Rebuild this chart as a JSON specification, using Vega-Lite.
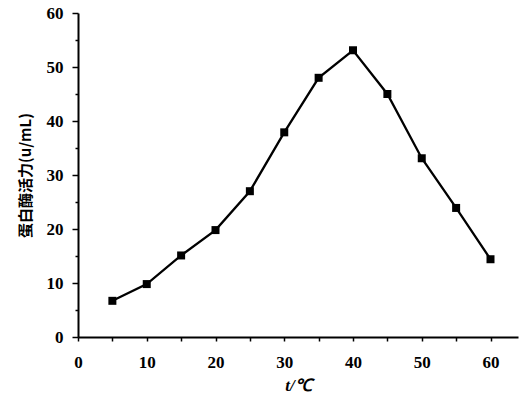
{
  "$schema": "https://vega.github.io/schema/vega-lite/v6.json",
  "width": 440,
  "height": 324,
  "autosize": {"type": "none"},
  "padding": {"left": 78, "top": 13, "right": 8, "bottom": 70},
  "background": "white",
  "config": {
    "view": {"stroke": null},
    "axis": {
      "grid": false,
      "domainColor": "black",
      "domainWidth": 2,
      "tickColor": "black",
      "tickWidth": 1.5,
      "labelFont": "Liberation Serif",
      "labelFontWeight": "bold",
      "labelFontSize": 17,
      "labelColor": "black",
      "titleColor": "black"
    }
  },
  "data": {
    "values": [
      {"t": 5, "activity": 6.7},
      {"t": 10, "activity": 9.8},
      {"t": 15, "activity": 15.1},
      {"t": 20, "activity": 19.8},
      {"t": 25, "activity": 27},
      {"t": 30, "activity": 37.9},
      {"t": 35, "activity": 48},
      {"t": 40, "activity": 53.1},
      {"t": 45, "activity": 45},
      {"t": 50, "activity": 33.1},
      {"t": 55, "activity": 23.9},
      {"t": 60, "activity": 14.4}
    ]
  },
  "encoding": {
    "x": {
      "field": "t",
      "type": "quantitative",
      "scale": {"domain": [0, 64], "nice": false},
      "axis": {
        "values": [0, 5, 10, 15, 20, 25, 30, 35, 40, 45, 50, 55, 60],
        "labelExpr": "datum.value % 10 == 0 ? datum.label : ''",
        "tickSize": 4,
        "labelPadding": 13,
        "labelFlush": false,
        "title": "t/℃",
        "titleFont": "Liberation Serif",
        "titleFontSize": 17,
        "titleFontWeight": "bold",
        "titleFontStyle": "italic",
        "titlePadding": 7
      }
    },
    "y": {
      "field": "activity",
      "type": "quantitative",
      "scale": {"domain": [0, 60], "nice": false},
      "axis": {
        "values": [0, 5, 10, 15, 20, 25, 30, 35, 40, 45, 50, 55, 60],
        "labelExpr": "datum.value % 10 == 0 ? datum.label : ''",
        "tickSize": {"condition": {"test": "datum.value % 10 == 0", "value": 6}, "value": 3},
        "labelPadding": 9,
        "labelFlush": false,
        "title": "蛋白酶活力(u/mL)",
        "titleFont": "Noto Sans CJK SC",
        "titleFontSize": 15,
        "titleFontWeight": "bold",
        "titlePadding": 13
      }
    }
  },
  "layer": [
    {"mark": {"type": "line", "color": "black", "strokeWidth": 2.3}},
    {"mark": {"type": "point", "shape": "square", "filled": true, "color": "black", "size": 64, "opacity": 1}}
  ]
}
